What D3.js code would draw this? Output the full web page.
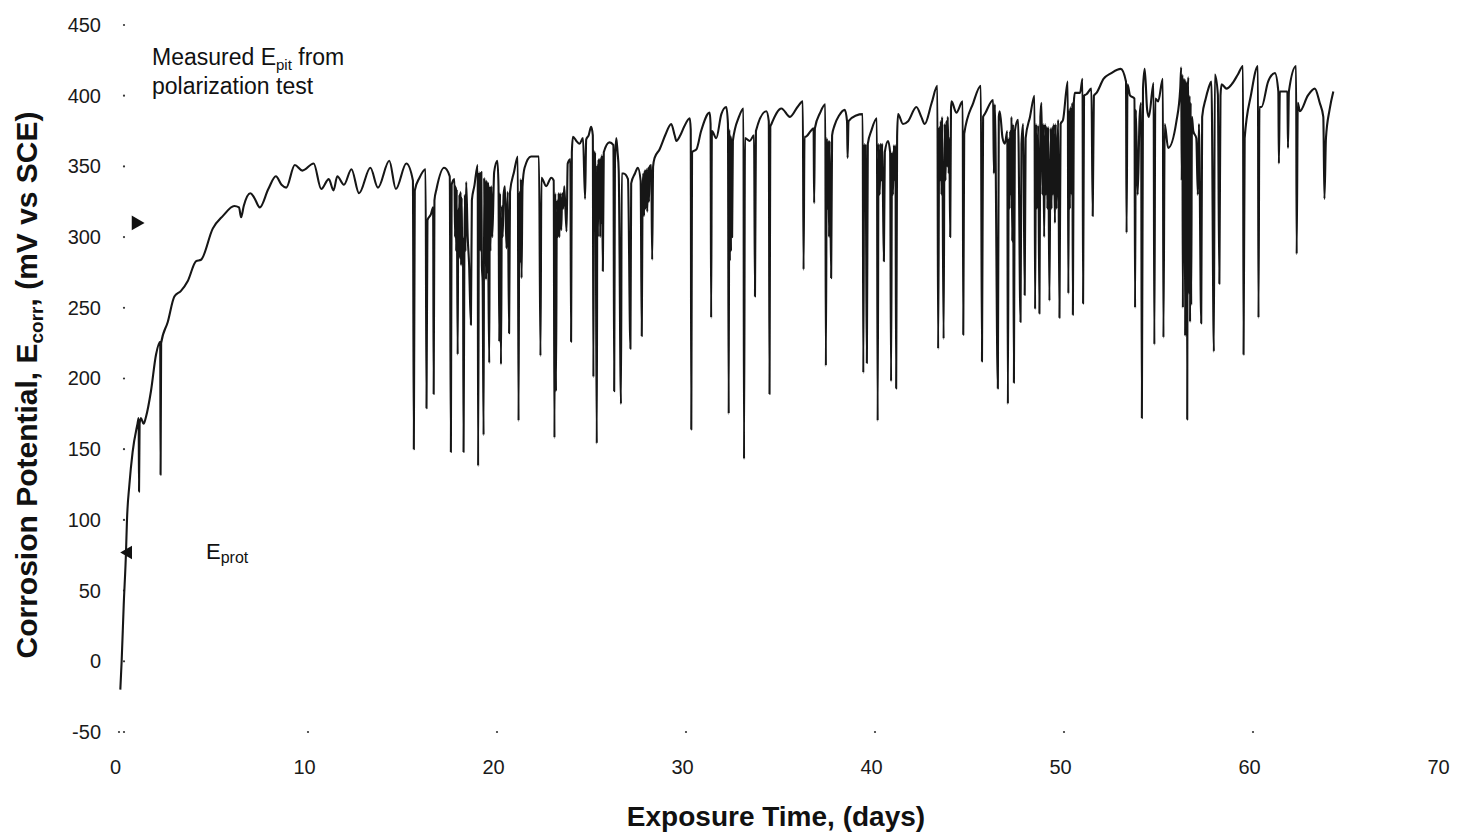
<!DOCTYPE html>
<html>
<head>
<meta charset="utf-8">
<script src="https://cdn.jsdelivr.net/npm/d3@7/dist/d3.min.js"></script>
<style>
  body { margin: 0; background: #fff; }
  svg { display: block; font-family: "Liberation Sans", Arial, sans-serif; }
  .tick text { fill: #1a1a1a; font-size: 20px; }
</style>
</head>
<body>
<svg id="chart"></svg>
<script>
// axis ticks
const xTicks = [0, 10, 20, 30, 40, 50, 60, 70];
const xTickDots = [0, 10, 20, 30, 40, 50, 60];
const yTicks = [-50, 0, 50, 100, 150, 200, 250, 300, 350, 400, 450];

// E_corr (mV vs SCE) against exposure time (days)
const initialRise = [
  [0.07, -20], [0.14, 0], [0.25, 40], [0.37, 77], [0.42, 99], [0.55, 125], [0.72, 148], [0.98, 168],
  [1.04, 172], [1.06, 120], [1.09, 168], [1.16, 172], [1.3, 168], [1.43, 173], [1.69, 191], [1.96, 217],
  [2.18, 226], [2.2, 132], [2.23, 225], [2.58, 240], [2.93, 258], [3.28, 262], [3.64, 269], [4.08, 283],
  [4.34, 284], [4.96, 306], [5.5, 315], [6.1, 322], [6.35, 321], [6.46, 314], [6.6, 322], [6.95, 331],
  [7.15, 328], [7.45, 321], [7.9, 334], [8.3, 343], [8.6, 337], [8.85, 335], [9.3, 351], [9.7, 347],
  [10.3, 352], [10.7, 334], [11.1, 341], [11.35, 333], [11.55, 343], [11.9, 337], [12.3, 348], [12.7, 331],
  [13.3, 349], [13.7, 335], [14.3, 354], [14.65, 334], [15.2, 352], [15.55, 340]
];

const pitting15to30 = [
  [15.6, 150], [15.65, 333], [15.9, 342], [16.22, 348], [16.27, 179], [16.32, 312], [16.5, 316], [16.62, 321],
  [16.65, 189], [16.69, 326], [16.8, 334], [17.2, 349], [17.5, 343], [17.56, 148], [17.6, 337], [17.75, 341],
  [17.78, 300], [17.81, 336], [17.84, 290], [17.87, 334], [17.92, 217], [17.95, 320], [17.98, 290], [18.01, 330],
  [18.04, 285], [18.07, 332], [18.1, 280], [18.13, 328], [18.16, 285], [18.2, 300], [18.23, 148], [18.27, 278],
  [18.3, 330], [18.33, 290], [18.37, 339], [18.45, 300], [18.52, 282], [18.62, 238], [18.67, 326], [18.8, 336],
  [18.98, 351], [19.0, 138], [19.05, 346], [19.08, 300], [19.11, 345], [19.14, 290], [19.17, 346], [19.2, 280],
  [19.24, 268], [19.29, 160], [19.32, 342], [19.35, 285], [19.38, 340], [19.42, 270], [19.45, 340], [19.48, 275],
  [19.52, 338], [19.55, 265], [19.59, 211], [19.62, 336], [19.65, 290], [19.7, 336], [19.75, 300], [19.85, 346],
  [20.02, 354], [20.08, 336], [20.12, 226], [20.16, 331], [20.21, 210], [20.26, 322], [20.3, 300], [20.35, 330],
  [20.42, 336], [20.5, 292], [20.57, 332], [20.64, 232], [20.69, 332], [20.9, 346], [21.1, 357], [21.14, 170],
  [21.18, 332], [21.22, 282], [21.26, 341], [21.3, 271], [21.35, 336], [21.46, 349], [21.8, 357], [22.22, 357],
  [22.3, 216], [22.35, 342], [22.6, 336], [22.87, 342], [23.0, 340], [23.04, 158], [23.08, 331], [23.12, 191],
  [23.17, 326], [23.22, 300], [23.26, 331], [23.3, 300], [23.34, 331], [23.4, 305], [23.45, 331], [23.5, 320],
  [23.56, 336], [23.68, 304], [23.74, 352], [23.88, 355], [23.92, 226], [23.96, 360], [24.02, 371], [24.2, 368],
  [24.37, 366], [24.55, 370], [24.66, 327], [24.72, 369], [24.85, 372], [24.98, 378], [25.07, 372], [25.1, 201],
  [25.13, 361], [25.16, 320], [25.19, 360], [25.22, 331], [25.28, 154], [25.31, 351], [25.34, 300], [25.37, 355],
  [25.4, 320], [25.43, 355], [25.46, 300], [25.49, 356], [25.52, 310], [25.55, 358], [25.6, 276], [25.65, 360],
  [25.95, 367], [26.16, 365], [26.2, 191], [26.24, 352], [26.31, 370], [26.38, 360], [26.44, 347], [26.56, 182],
  [26.6, 345], [26.7, 345], [26.93, 341], [27.06, 221], [27.1, 338], [27.3, 345], [27.45, 349], [27.6, 340],
  [27.66, 230], [27.7, 331], [27.74, 345], [27.78, 315], [27.82, 347], [27.86, 320], [27.9, 348], [27.95, 318],
  [28.0, 349], [28.04, 325], [28.08, 350], [28.16, 351], [28.21, 284], [28.26, 350], [28.34, 356], [28.6, 362],
  [28.9, 372], [29.22, 380], [29.4, 372], [29.49, 368], [29.7, 372], [29.9, 378]
];

const pitting30to45 = [
  [30.2, 384], [30.25, 376], [30.28, 164], [30.32, 360], [30.55, 362], [30.8, 375], [31.25, 388], [31.3, 380],
  [31.33, 243], [31.37, 375], [31.6, 370], [31.87, 387], [32.13, 392], [32.22, 380], [32.26, 175], [32.29, 376],
  [32.32, 283], [32.35, 372], [32.38, 290], [32.41, 370], [32.44, 300], [32.48, 368], [32.8, 385], [33.04, 391],
  [33.07, 143], [33.12, 370], [33.37, 368], [33.6, 372], [33.65, 258], [33.7, 375], [34.25, 389], [34.38, 382],
  [34.42, 189], [34.46, 378], [34.52, 380], [35.05, 391], [35.5, 385], [35.9, 392], [36.18, 396], [36.22, 277],
  [36.27, 371], [36.33, 371], [36.6, 375], [36.75, 377], [36.78, 324], [36.82, 377], [37.1, 388], [37.37, 394],
  [37.4, 209], [37.45, 370], [37.49, 320], [37.53, 368], [37.57, 300], [37.6, 368], [37.68, 271], [37.73, 372],
  [37.86, 379], [38.1, 386], [38.4, 390], [38.52, 382], [38.55, 356], [38.6, 382], [39.0, 386], [39.35, 387],
  [39.38, 204], [39.43, 366], [39.47, 320], [39.5, 365], [39.53, 300], [39.57, 211], [39.62, 366], [39.8, 375],
  [40.1, 384], [40.14, 170], [40.19, 366], [40.25, 330], [40.3, 366], [40.34, 340], [40.38, 366], [40.42, 330],
  [40.47, 283], [40.52, 360], [40.69, 368], [40.8, 360], [40.85, 198], [40.9, 360], [40.95, 330], [41.0, 365],
  [41.05, 340], [41.08, 365], [41.12, 193], [41.17, 371], [41.22, 387], [41.48, 380], [41.75, 382], [42.19, 392],
  [42.45, 385], [42.63, 380], [43.0, 395], [43.3, 407], [43.34, 221], [43.4, 378], [43.44, 340], [43.48, 382],
  [43.52, 330], [43.55, 385], [43.63, 228], [43.68, 380], [43.73, 340], [43.78, 382], [43.82, 350], [43.85, 385],
  [43.9, 345], [43.93, 370], [43.98, 300], [44.02, 390], [44.05, 396], [44.3, 388], [44.64, 396], [44.67, 231],
  [44.72, 373], [45.2, 395], [45.6, 407]
];

const pitting45to64 = [
  [45.66, 212], [45.72, 385], [45.81, 387], [46.25, 397], [46.29, 345], [46.34, 394], [46.5, 193], [46.55, 385],
  [46.6, 389], [46.75, 370], [46.87, 366], [47.0, 375], [47.03, 182], [47.08, 370], [47.12, 320], [47.15, 375],
  [47.19, 330], [47.22, 385], [47.26, 297], [47.3, 380], [47.35, 197], [47.4, 375], [47.57, 383], [47.7, 240],
  [47.75, 366], [47.84, 380], [47.92, 259], [47.97, 370], [48.2, 385], [48.44, 400], [48.47, 249], [48.52, 380],
  [48.57, 320], [48.63, 379], [48.7, 246], [48.75, 385], [48.81, 395], [48.86, 330], [48.9, 380], [48.95, 300],
  [49.0, 380], [49.04, 330], [49.08, 378], [49.12, 320], [49.16, 378], [49.23, 255], [49.29, 377], [49.34, 320],
  [49.38, 378], [49.42, 330], [49.46, 380], [49.52, 310], [49.56, 380], [49.6, 320], [49.69, 383], [49.76, 243],
  [49.82, 380], [49.95, 383], [50.2, 410], [50.23, 260], [50.27, 390], [50.31, 320], [50.35, 392], [50.4, 330],
  [50.44, 395], [50.47, 245], [50.52, 395], [50.57, 402], [50.85, 402], [50.98, 412], [51.01, 253], [51.06, 400],
  [51.19, 401], [51.45, 405], [51.52, 315], [51.58, 400], [51.72, 402], [52.1, 412], [52.5, 416], [53.0, 419],
  [53.28, 410], [53.31, 303], [53.36, 408], [53.5, 400], [53.73, 398], [53.76, 250], [53.8, 390], [53.9, 330],
  [54.0, 385], [54.08, 395], [54.12, 172], [54.18, 405], [54.27, 419], [54.4, 390], [54.49, 385], [54.74, 409],
  [54.78, 224], [54.83, 398], [54.98, 396], [55.23, 412], [55.26, 229], [55.33, 380], [55.51, 363], [55.95, 382],
  [56.15, 405], [56.2, 420], [56.23, 340], [56.26, 415], [56.29, 250], [56.32, 412], [56.35, 300], [56.38, 412],
  [56.41, 230], [56.44, 410], [56.47, 250], [56.5, 410], [56.52, 171], [56.55, 405], [56.58, 413], [56.61, 260],
  [56.64, 400], [56.67, 240], [56.7, 395], [56.73, 252], [56.77, 385], [56.84, 375], [57.0, 370], [57.08, 330],
  [57.14, 380], [57.26, 239], [57.31, 385], [57.5, 398], [57.64, 405], [57.8, 410], [57.93, 219], [57.98, 415],
  [58.14, 401], [58.22, 267], [58.28, 400], [58.34, 408], [58.6, 405], [58.87, 408], [59.2, 415], [59.47, 421],
  [59.5, 217], [59.56, 370], [59.9, 401], [60.26, 421], [60.29, 243], [60.34, 392], [60.45, 392], [60.8, 410],
  [61.16, 416], [61.34, 403], [61.37, 352], [61.42, 403], [61.82, 403], [61.85, 363], [61.9, 403], [62.28, 421],
  [62.31, 288], [62.37, 395], [62.48, 389], [62.9, 400], [63.27, 405], [63.53, 395], [63.72, 385], [63.78, 327],
  [63.86, 370], [64.05, 390], [64.25, 403]
];

// marked potentials [day, mV]
const ePit = [0.9, 310];
const eProt = [0.48, 77];

const width = 1458;
const height = 835;
const svg = d3.select('#chart').attr('width', width).attr('height', height);
svg.append('rect').attr('width', width).attr('height', height).attr('fill', '#fff');

const x = d3.scaleLinear().domain([0, 70]).range([119, 1442]);
const y = d3.scaleLinear().domain([-50, 450]).range([732, 25]);

// axes: labels only, the scan shows no axis lines
const xAxis = d3.axisBottom(x).tickValues(xTicks).tickSize(0).tickPadding(0).tickFormat(d => String(d));
svg.append('g').attr('class', 'x axis')
    .attr('transform', 'translate(-4,760)')
    .call(xAxis)
    .call(g => g.select('.domain').remove());

const yAxis = d3.axisLeft(y).tickValues(yTicks).tickSize(0).tickPadding(0).tickFormat(d => String(d));
svg.append('g').attr('class', 'y axis')
    .attr('transform', 'translate(101,0)')
    .call(yAxis)
    .call(g => g.select('.domain').remove());

// little tick dots
svg.append('g').selectAll('circle').data(xTickDots).join('circle')
    .attr('cx', d => x(d)).attr('cy', y(-50)).attr('r', 1.1).attr('fill', '#333');
svg.append('g').selectAll('circle').data(yTicks).join('circle')
    .attr('cx', 124).attr('cy', d => y(d)).attr('r', 1.1).attr('fill', '#333');

// titles
svg.append('text')
    .attr('x', 776).attr('y', 826)
    .attr('text-anchor', 'middle')
    .style('font-size', '28px').style('font-weight', 'bold').attr('fill', '#111')
    .text('Exposure Time, (days)');

const yTitle = svg.append('text')
    .attr('transform', 'translate(37,385) rotate(-90)')
    .attr('text-anchor', 'middle')
    .style('font-size', '30px').style('font-weight', 'bold').attr('fill', '#111');
yTitle.append('tspan').text('Corrosion Potential, E');
yTitle.append('tspan').attr('dy', 6).style('font-size', '19px').text('corr');
yTitle.append('tspan').attr('dy', -6).text(', (mV vs SCE)');

// the potential trace
const series = initialRise.concat(pitting15to30, pitting30to45, pitting45to64);
const line = d3.line().x(d => x(d[0])).y(d => y(d[1])).curve(d3.curveMonotoneX);
svg.append('path')
    .datum(series)
    .attr('d', line)
    .attr('fill', 'none')
    .attr('stroke', '#161616')
    .attr('stroke-width', 2.1)
    .attr('stroke-linejoin', 'round');

// markers
svg.append('path')
    .attr('d', d3.symbol(d3.symbolTriangle).size(95)())
    .attr('transform', 'translate(' + x(ePit[0]) + ',' + y(ePit[1]) + ') rotate(90)')
    .attr('fill', '#111');
svg.append('path')
    .attr('d', d3.symbol(d3.symbolTriangle).size(80)())
    .attr('transform', 'translate(' + x(eProt[0]) + ',' + y(eProt[1]) + ') rotate(-90)')
    .attr('fill', '#111');

// annotations
const note = svg.append('text').attr('x', 152).attr('y', 65)
    .style('font-size', '23px').attr('fill', '#111');
note.append('tspan').text('Measured E');
note.append('tspan').attr('dy', 5).style('font-size', '15px').text('pit');
note.append('tspan').attr('dy', -5).text(' from');
svg.append('text').attr('x', 152).attr('y', 94)
    .style('font-size', '23px').attr('fill', '#111')
    .text('polarization test');

const protLabel = svg.append('text').attr('x', 206).attr('y', 559)
    .style('font-size', '22px').attr('fill', '#111');
protLabel.append('tspan').text('E');
protLabel.append('tspan').attr('dy', 4).style('font-size', '16px').text('prot');
</script>
</body>
</html>
